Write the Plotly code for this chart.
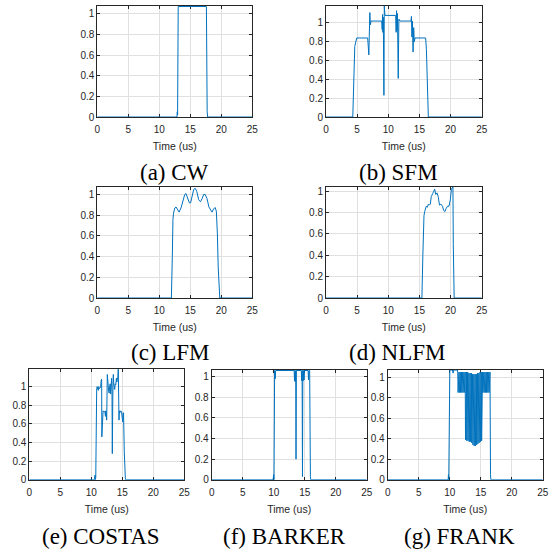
import plotly.graph_objects as go

# ---------------- data (time in us, normalised amplitude) ----------------
cw_pts = [(0, 0), (12.85, 0), (12.9, 0.05), (12.95, 0.02), (13.05, 1.07), (17.6, 1.07),
          (17.72, 0.05), (17.8, 0), (25, 0)]

sfm_pts = [(0, 0), (4.3, 0), (4.62, 0.75), (4.75, 0.8), (4.93, 0.84), (6.69, 0.84), (6.76, 0.72),
           (6.82, 0.8), (6.88, 0.66), (6.95, 0.86), (7.04, 1.11), (7.12, 0.98), (7.23, 1.02),
           (8.95, 1.02), (9.02, 0.93), (9.08, 1.09), (9.14, 0.9), (9.2, 1.06), (9.3, 0.23),
           (9.36, 1.18), (9.42, 1.02), (9.47, 1.08), (11.19, 1.08), (11.26, 0.9), (11.33, 1.13),
           (11.4, 0.92), (11.47, 1.1), (11.6, 0.41), (11.7, 1.04), (11.88, 1.02), (13.65, 1.02),
           (13.72, 1.07), (13.8, 0.85), (13.87, 1.02), (13.98, 0.69), (14.08, 0.95), (14.18, 0.8),
           (14.29, 0.84), (16.0, 0.84), (16.12, 0.72), (16.43, 0), (25, 0)]

lfm_pts = [(0, 0), (11.95, 0), (12.1, 0.4), (12.15, 0.7), (12.2, 0.76), (12.3, 0.82), (12.5, 0.87),
           (12.7, 0.88), (12.95, 0.85), (13.2, 0.83), (13.5, 0.87), (13.8, 0.95), (14.1, 1.0),
           (14.3, 1.01), (14.6, 0.97), (14.85, 0.92), (15.05, 0.92), (15.3, 0.98), (15.55, 1.05),
           (15.8, 1.06), (16.05, 1.03), (16.35, 0.95), (16.65, 0.93), (16.9, 0.96), (17.15, 1.0),
           (17.4, 1.0), (17.7, 0.96), (18.0, 0.88), (18.3, 0.84), (18.5, 0.83), (18.75, 0.86),
           (19.0, 0.875), (19.2, 0.84), (19.33, 0.73), (19.37, 0.62), (19.5, 0.3), (19.68, 0.03),
           (19.75, 0), (25, 0)]

nlfm_pts = [(0, 0), (15.4, 0), (15.55, 0.4), (15.62, 0.62), (15.66, 0.7), (15.73, 0.77),
            (15.85, 0.81), (15.95, 0.83), (16.1, 0.86), (16.27, 0.85), (16.45, 0.88), (16.6, 0.87),
            (16.75, 0.88), (16.9, 0.95), (17.0, 0.97), (17.15, 0.98), (17.3, 1.0), (17.45, 1.02),
            (17.62, 0.97), (17.82, 0.985), (18.02, 0.95), (18.22, 0.87), (18.45, 0.88),
            (18.7, 0.86), (18.9, 0.82), (19.1, 0.81), (19.3, 0.84), (19.52, 0.86), (19.75, 0.86),
            (19.96, 0.92), (20.14, 1.02), (20.3, 1.04), (20.38, 1.04), (20.44, 0.5), (20.5, 0.03),
            (20.58, 0), (25, 0)]

costas_pts = [(0, 0), (10.5, 0), (10.6, 0.05), (10.65, 0), (10.72, 0.02), (10.87, 0.98), (10.95, 1.0),
              (11.05, 0.97), (11.1, 1.0), (11.15, 0.96), (11.2, 1.0), (11.3, 0.98), (11.5, 0.99),
              (11.6, 1.07), (11.67, 1.08), (11.7, 0.46), (11.75, 0.6), (11.8, 0.73), (11.85, 0.66),
              (11.9, 0.74), (12.0, 0.73), (12.2, 0.73), (12.28, 0.68), (12.33, 0.74), (12.4, 0.72),
              (12.48, 0.64), (12.58, 1.13), (12.68, 1.05), (12.8, 0.95), (12.88, 0.93), (12.95, 1.0),
              (13.05, 1.03), (13.12, 0.92), (13.2, 1.0), (13.28, 1.09), (13.34, 0.95), (13.39, 0.28),
              (13.47, 0.9), (13.55, 1.13), (13.62, 1.03), (13.7, 1.0), (13.78, 0.97), (13.85, 1.03),
              (13.95, 1.02), (14.05, 1.09), (14.12, 1.05), (14.2, 1.08), (14.28, 1.1), (14.35, 1.19),
              (14.42, 0.8), (14.47, 0.64), (14.52, 0.74), (14.6, 0.72), (14.75, 0.74), (14.88, 0.73),
              (14.95, 0.65), (15.0, 0.72), (15.06, 0.62), (15.12, 0.71), (15.2, 0.72), (15.32, 0.3),
              (15.45, 0.02), (15.5, 0), (25, 0)]

barker_pts = [(0, 0), (9.9, 0), (10.0, 0.05), (10.05, 0), (10.15, 1.06), (10.25, 0.98), (10.32, 1.06),
              (13.3, 1.06), (13.36, 0.96), (13.42, 1.06), (13.48, 0.95), (13.55, 1.06), (13.6, 0.2),
              (13.66, 1.06), (14.45, 1.06), (14.52, 0.96), (14.58, 1.06), (14.64, 0.03), (14.7, 1.06),
              (14.76, 0.96), (14.82, 1.06), (14.9, 0.97), (14.96, 1.06), (15.55, 1.06), (15.62, 0.97),
              (15.68, 1.06), (15.8, 1.06), (15.92, 0.03), (15.97, 0), (25, 0)]

frank_pts = [(0, 0), (9.75, 0), (9.8, 0.05), (9.85, 0), (10.02, 1.07), (10.45, 1.07), (10.55, 1.04),
             (10.65, 1.07), (11.25, 1.07),
             (11.30, 1.05), (11.35, 0.85), (11.40, 1.05), (11.45, 0.85), (11.50, 1.05), (11.55, 0.85),
             (11.60, 1.05), (11.65, 0.85), (11.70, 1.05), (11.75, 0.85), (11.80, 1.05), (11.85, 0.85),
             (11.90, 1.05), (11.95, 0.85), (12.00, 1.05), (12.05, 0.85), (12.10, 1.05), (12.15, 0.85),
             (12.20, 1.05), (12.25, 0.85), (12.30, 1.05), (12.35, 0.85), (12.40, 1.05), (12.45, 0.85),
             (12.50, 1.05),
             (12.55, 0.39), (12.60, 1.05), (12.65, 0.85), (12.70, 1.05),
             (12.75, 0.38), (12.80, 1.05), (12.85, 0.85), (12.90, 1.05),
             (12.95, 0.38), (13.00, 1.04), (13.05, 0.85), (13.10, 1.04),
             (13.15, 0.37), (13.20, 1.04), (13.25, 0.85), (13.30, 1.04),
             (13.35, 0.37), (13.40, 1.04), (13.45, 0.85), (13.50, 1.04),
             (13.55, 0.36), (13.60, 1.03), (13.65, 0.85), (13.70, 1.03),
             (13.75, 0.34), (13.80, 1.03), (13.85, 0.85), (13.90, 1.03),
             (13.95, 0.33), (14.00, 1.03), (14.05, 0.85), (14.10, 1.03),
             (14.15, 0.33), (14.20, 1.03), (14.25, 0.85), (14.30, 1.03),
             (14.35, 0.34), (14.40, 1.04), (14.45, 0.85), (14.50, 1.04),
             (14.55, 0.35), (14.60, 1.04), (14.65, 0.85), (14.70, 1.04),
             (14.75, 0.36), (14.80, 1.04), (14.85, 0.85), (14.90, 1.05),
             (14.95, 0.37), (15.00, 1.05), (15.05, 0.85), (15.10, 1.05),
             (15.15, 0.38), (15.20, 1.05),
             (15.25, 0.85), (15.30, 1.05), (15.35, 0.85), (15.40, 1.05), (15.45, 0.85), (15.50, 1.05),
             (15.55, 0.85), (15.60, 1.05), (15.65, 0.85), (15.70, 1.05), (15.75, 0.85), (15.80, 1.05),
             (15.85, 0.85), (15.90, 1.05), (15.95, 0.85), (16.00, 1.05), (16.05, 0.85), (16.10, 1.05),
             (16.15, 0.85), (16.20, 1.05), (16.25, 0.85), (16.30, 1.05), (16.35, 0.85), (16.40, 1.05),
             (16.45, 0.86), (16.50, 1.05), (16.58, 0.05), (16.63, 0), (25, 0)]

captions = ["(a) CW", "(b) SFM", "(c) LFM", "(d) NLFM", "(e) COSTAS", "(f) BARKER", "(g) FRANK"]
x_ticks = [0, 5, 10, 15, 20, 25]
x_tick_labels = ["0", "5", "10", "15", "20", "25"]
y_ticks = [0, 0.2, 0.4, 0.6, 0.8, 1]
y_tick_labels = ["0", "0.2", "0.4", "0.6", "0.8", "1"]
y_tops = [1.075, 1.18, 1.07, 1.04, 1.186, 1.065, 1.07]
x_label = "Time (us)"

series = [cw_pts, sfm_pts, lfm_pts, nlfm_pts, costas_pts, barker_pts, frank_pts]

# ---------------- layout geometry (pixels) ----------------
W = H = 550
boxes = [(97.3, 6, 252.3, 117), (326, 6, 481.7, 117),
         (97.3, 187.3, 252.3, 298), (326, 187, 481.7, 298),
         (29.3, 369.3, 184.3, 479.7), (211.7, 370, 366.7, 479.7), (387.7, 370, 542.7, 479.7)]
cap_pos = [(174, 172), (398, 172), (170, 352), (397, 352), (101, 536), (284, 536), (460, 536)]

LINE = "#0072BD"
AX = "#262626"
GRID = "#e0e0e0"
SANS = "Liberation Sans"
SERIF = "Liberation Serif"
TICKFONT = dict(family=SANS, size=10, color=AX)

fig = go.Figure()
layout = dict(width=W, height=H, margin=dict(l=0, r=0, t=0, b=0, autoexpand=False),
              paper_bgcolor="white", plot_bgcolor="white", showlegend=False,
              template="none")

annotations = []
for i, (pts, box, ytop) in enumerate(zip(series, boxes, y_tops)):
    n = i + 1
    xa = "x" if n == 1 else f"x{n}"
    ya = "y" if n == 1 else f"y{n}"
    t = [p[0] for p in pts]
    v = [p[1] for p in pts]
    fig.add_trace(go.Scatter(x=t, y=v, mode="lines", xaxis=xa, yaxis=ya,
                             line=dict(color=LINE, width=1), hoverinfo="skip"))
    x0, y0, x1, y1 = box
    common = dict(showline=True, linecolor=AX, linewidth=1, mirror="ticks",
                  ticks="inside", ticklen=3, tickcolor=AX, tickwidth=1,
                  showgrid=True, gridcolor=GRID, gridwidth=1, zeroline=False,
                  tickfont=TICKFONT, layer="below traces", fixedrange=True,
                  automargin=False)
    layout["xaxis" if n == 1 else f"xaxis{n}"] = dict(
        domain=[x0 / W, x1 / W], anchor=ya, range=[0, 25],
        tickmode="array", tickvals=x_ticks, ticktext=x_tick_labels, ticklabelstandoff=3,
        title=dict(text=x_label, font=dict(family=SANS, size=10.5, color=AX), standoff=8),
        **common)
    layout["yaxis" if n == 1 else f"yaxis{n}"] = dict(
        domain=[1 - y1 / H, 1 - y0 / H], anchor=xa, range=[0, ytop],
        tickmode="array", tickvals=y_ticks, ticktext=y_tick_labels, **common)
    cx, cy = cap_pos[i]
    annotations.append(dict(text=captions[i], xref="paper", yref="paper",
                            x=cx / W, y=1 - cy / H, xanchor="center", yanchor="middle",
                            showarrow=False,
                            font=dict(family=SERIF, size=23, color="black")))

layout["annotations"] = annotations
fig.update_layout(**layout)
fig.write_html("out.html", post_script="document.body.style.margin='0';",
               config={"displayModeBar": False})
